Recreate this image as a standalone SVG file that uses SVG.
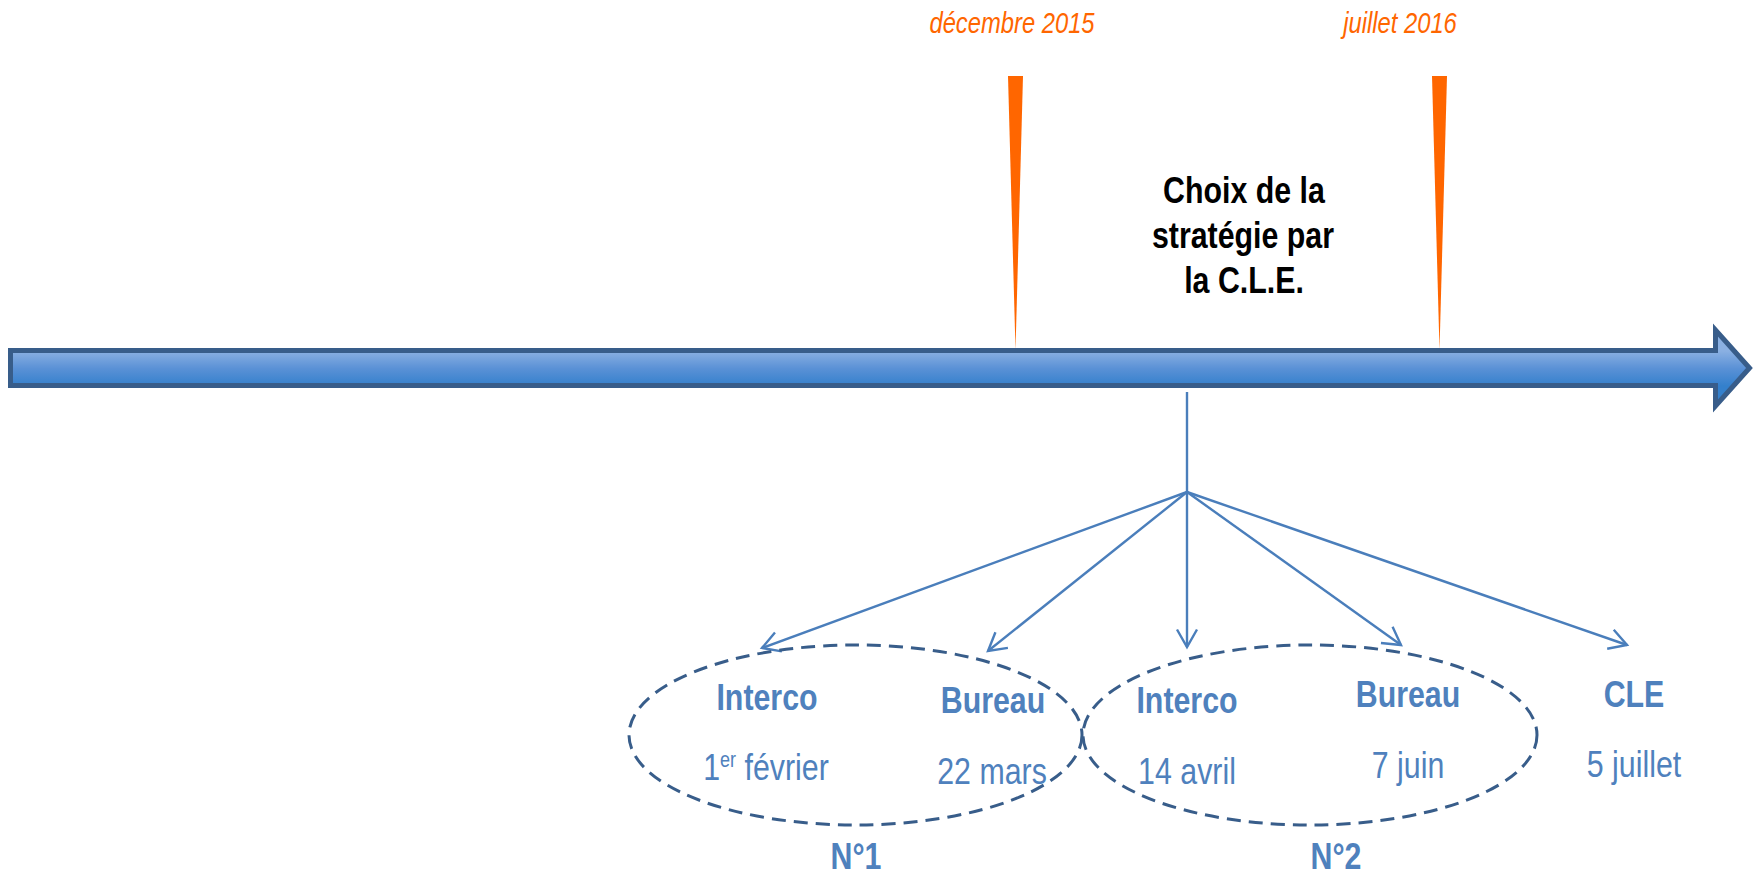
<svg xmlns="http://www.w3.org/2000/svg" width="1756" height="877" viewBox="0 0 1756 877">
<style>
.nar{font-family:"Liberation Sans",Arial,sans-serif;font-size:37px;text-anchor:middle}
.b{font-weight:bold}
.blue{fill:#4F81BD}
.blk{fill:#000}
.org{fill:#FF6600;font-size:29px;font-style:italic}
.conn{stroke:#4A7EBB;stroke-width:2.4;fill:none}
.ell{fill:none;stroke:#385D8A;stroke-width:3;stroke-dasharray:14 8}
</style>
<defs>
<linearGradient id="barg" gradientUnits="userSpaceOnUse" x1="0" y1="351" x2="0" y2="386">
<stop offset="0" stop-color="#8AB0E2"/>
<stop offset="0.5" stop-color="#5A91D6"/>
<stop offset="1" stop-color="#3480CC"/>
</linearGradient>
<marker id="ah" markerUnits="userSpaceOnUse" viewBox="-22 -13 25 26" refX="0" refY="0" markerWidth="25" markerHeight="26" orient="auto">
<path d="M-17.5,-10 L0,0 L-17.5,10" fill="none" stroke="#4A7EBB" stroke-width="2.4"/>
</marker>
</defs>
<rect width="1756" height="877" fill="#fff"/>

<g id="marker-dec2015">
<polygon points="1008,76 1023,76 1015.5,350" fill="#FF6600"/>
<text class="nar org" transform="translate(1012,33) scale(0.82,1)">décembre 2015</text>
</g>
<g id="marker-jul2016">
<polygon points="1432,76 1447,76 1439.5,350" fill="#FF6600"/>
<text class="nar org" transform="translate(1400,33) scale(0.82,1)">juillet 2016</text>
</g>

<g id="timeline">
<path d="M10.5,350.5 H1715.5 V330 L1749.5,368 L1715.5,406 V385.5 H10.5 Z" fill="url(#barg)" stroke="#385D8A" stroke-width="5" stroke-linejoin="miter"/>
</g>

<g id="choix">
<text class="nar b blk" transform="translate(1244,203) scale(0.82,1)">Choix de la</text>
<text class="nar b blk" transform="translate(1243,248) scale(0.82,1)">stratégie par</text>
<text class="nar b blk" transform="translate(1244,293) scale(0.82,1)">la C.L.E.</text>
</g>

<g id="connectors">
<line class="conn" x1="1187" y1="392" x2="1187" y2="492"/>
<line class="conn" x1="1187" y1="492" x2="762" y2="648" marker-end="url(#ah)"/>
<line class="conn" x1="1187" y1="492" x2="988" y2="651" marker-end="url(#ah)"/>
<line class="conn" x1="1187" y1="492" x2="1187" y2="647" marker-end="url(#ah)"/>
<line class="conn" x1="1187" y1="492" x2="1401" y2="645" marker-end="url(#ah)"/>
<line class="conn" x1="1187" y1="492" x2="1627" y2="645" marker-end="url(#ah)"/>
</g>

<g id="group-n1">
<ellipse class="ell" cx="855.5" cy="735" rx="226.5" ry="90"/>
<text class="nar b blue" transform="translate(856,869) scale(0.82,1)">N°1</text>
</g>
<g id="group-n2">
<ellipse class="ell" cx="1310" cy="735" rx="227" ry="90"/>
<text class="nar b blue" transform="translate(1336,869) scale(0.82,1)">N°2</text>
</g>

<g id="interco-1">
<text class="nar b blue" transform="translate(767,710) scale(0.82,1)">Interco</text>
<text class="nar blue" transform="translate(766,780) scale(0.82,1)">1<tspan font-size="22" dy="-13">er</tspan><tspan dy="13"> février</tspan></text>
</g>
<g id="bureau-1">
<text class="nar b blue" transform="translate(993,713) scale(0.82,1)">Bureau</text>
<text class="nar blue" transform="translate(992,784) scale(0.82,1)">22 mars</text>
</g>
<g id="interco-2">
<text class="nar b blue" transform="translate(1187,713) scale(0.82,1)">Interco</text>
<text class="nar blue" transform="translate(1187,784) scale(0.82,1)">14 avril</text>
</g>
<g id="bureau-2">
<text class="nar b blue" transform="translate(1408,707) scale(0.82,1)">Bureau</text>
<text class="nar blue" transform="translate(1408,778) scale(0.82,1)">7 juin</text>
</g>
<g id="cle">
<text class="nar b blue" transform="translate(1634,707) scale(0.82,1)">CLE</text>
<text class="nar blue" transform="translate(1634,777) scale(0.82,1)">5 juillet</text>
</g>
</svg>
